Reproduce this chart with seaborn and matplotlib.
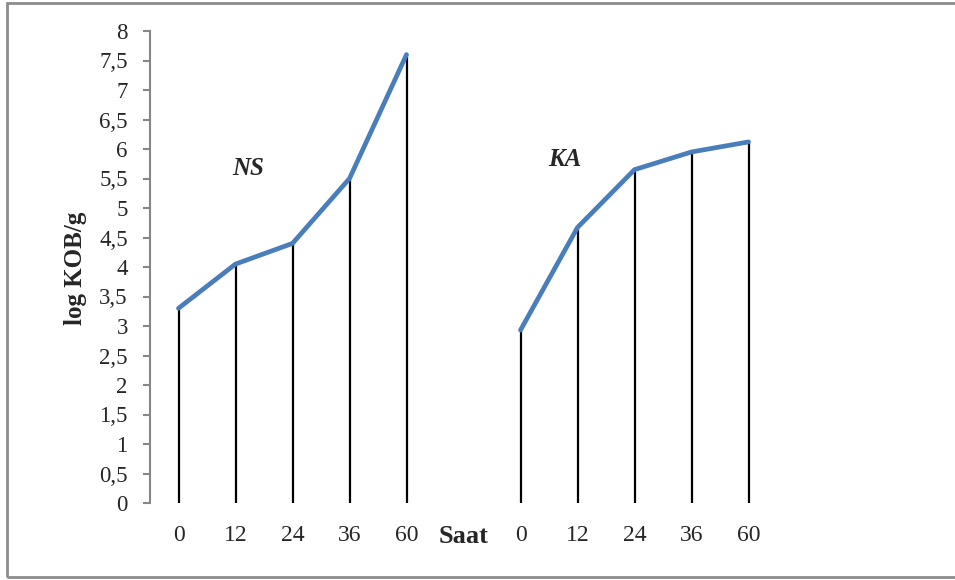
import numpy as np
import pandas as pd
import matplotlib
matplotlib.use("Agg")
import matplotlib.pyplot as plt
import seaborn as sns
from matplotlib.patches import Rectangle

# sampling hours and log counts
hours = ["0", "12", "24", "36", "60"]
ns_values = [3.3, 4.05, 4.4, 5.5, 7.6]
ka_values = [2.93, 4.67, 5.65, 5.95, 6.12]
tick_labels = hours + ["Saat"] + hours

sns.set_style("white")
plt.rcParams['font.family'] = ['Liberation Serif', 'DejaVu Serif']
SERIF = ['Liberation Serif', 'DejaVu Serif']

# NS on the first five category slots, KA after the "Saat" slot
df = pd.DataFrame({
    "pos": list(range(5)) + list(range(6, 11)),
    "val": ns_values + ka_values,
    "grp": ["NS"] * 5 + ["KA"] * 5,
})

fig = plt.figure(figsize=(9.55, 5.8), dpi=100)
ax = fig.add_axes([150 / 955, 1 - 503 / 580, 627 / 955, 472 / 580])

# drop lines from each point down to zero
ax.vlines(df["pos"], 0, df["val"], color="black", lw=1.6, zorder=2)

sns.lineplot(data=df, x="pos", y="val", hue="grp", units="grp", estimator=None,
             palette={"NS": "#4a7ebb", "KA": "#4a7ebb"}, lw=3.4,
             legend=False, ax=ax, zorder=3, solid_capstyle="round")

ax.set_xlim(-0.5, 10.5)
ax.set_ylim(0, 8)
yt = np.arange(0, 8.01, 0.5)
ax.set_yticks(yt)
ax.set_yticklabels([("%g" % v).replace(".", ",") for v in yt],
                   fontsize=16.5, family=SERIF)
ax.set_xticks(range(11))
ax.set_xticklabels(tick_labels, fontsize=17, family=SERIF)
for lbl in ax.get_xticklabels():
    if lbl.get_text() == "Saat":
        lbl.set_fontweight("bold")
        lbl.set_fontsize(19)
ax.tick_params(axis="x", length=0, pad=16)
ax.tick_params(axis="y", length=5, width=1.5, color="#868686", pad=11, direction="out", left=True)

for s in ["top", "right", "bottom"]:
    ax.spines[s].set_visible(False)
ax.spines["left"].set_color("#868686")
ax.spines["left"].set_linewidth(1.5)

ax.set_xlabel("")
ax.set_ylabel("")
fig.text(75 / 955, 1 - 268 / 580, "log KOB/g", rotation=90, fontsize=18,
         fontweight="bold", ha="center", va="center", family=SERIF)

ax.text(1.22, 5.67, "NS", fontsize=18, fontstyle="italic", fontweight="bold",
        ha="center", va="center", family=SERIF)
ax.text(6.77, 5.83, "KA", fontsize=18, fontstyle="italic", fontweight="bold",
        ha="center", va="center", family=SERIF)

# outer frame like the exported chart area
fig.patches.append(Rectangle((7 / 955, 3 / 580), 960 / 955, 574 / 580,
                             transform=fig.transFigure, fill=False,
                             edgecolor="#8c8c8c", lw=2))

fig.savefig("out.png", dpi=100)
